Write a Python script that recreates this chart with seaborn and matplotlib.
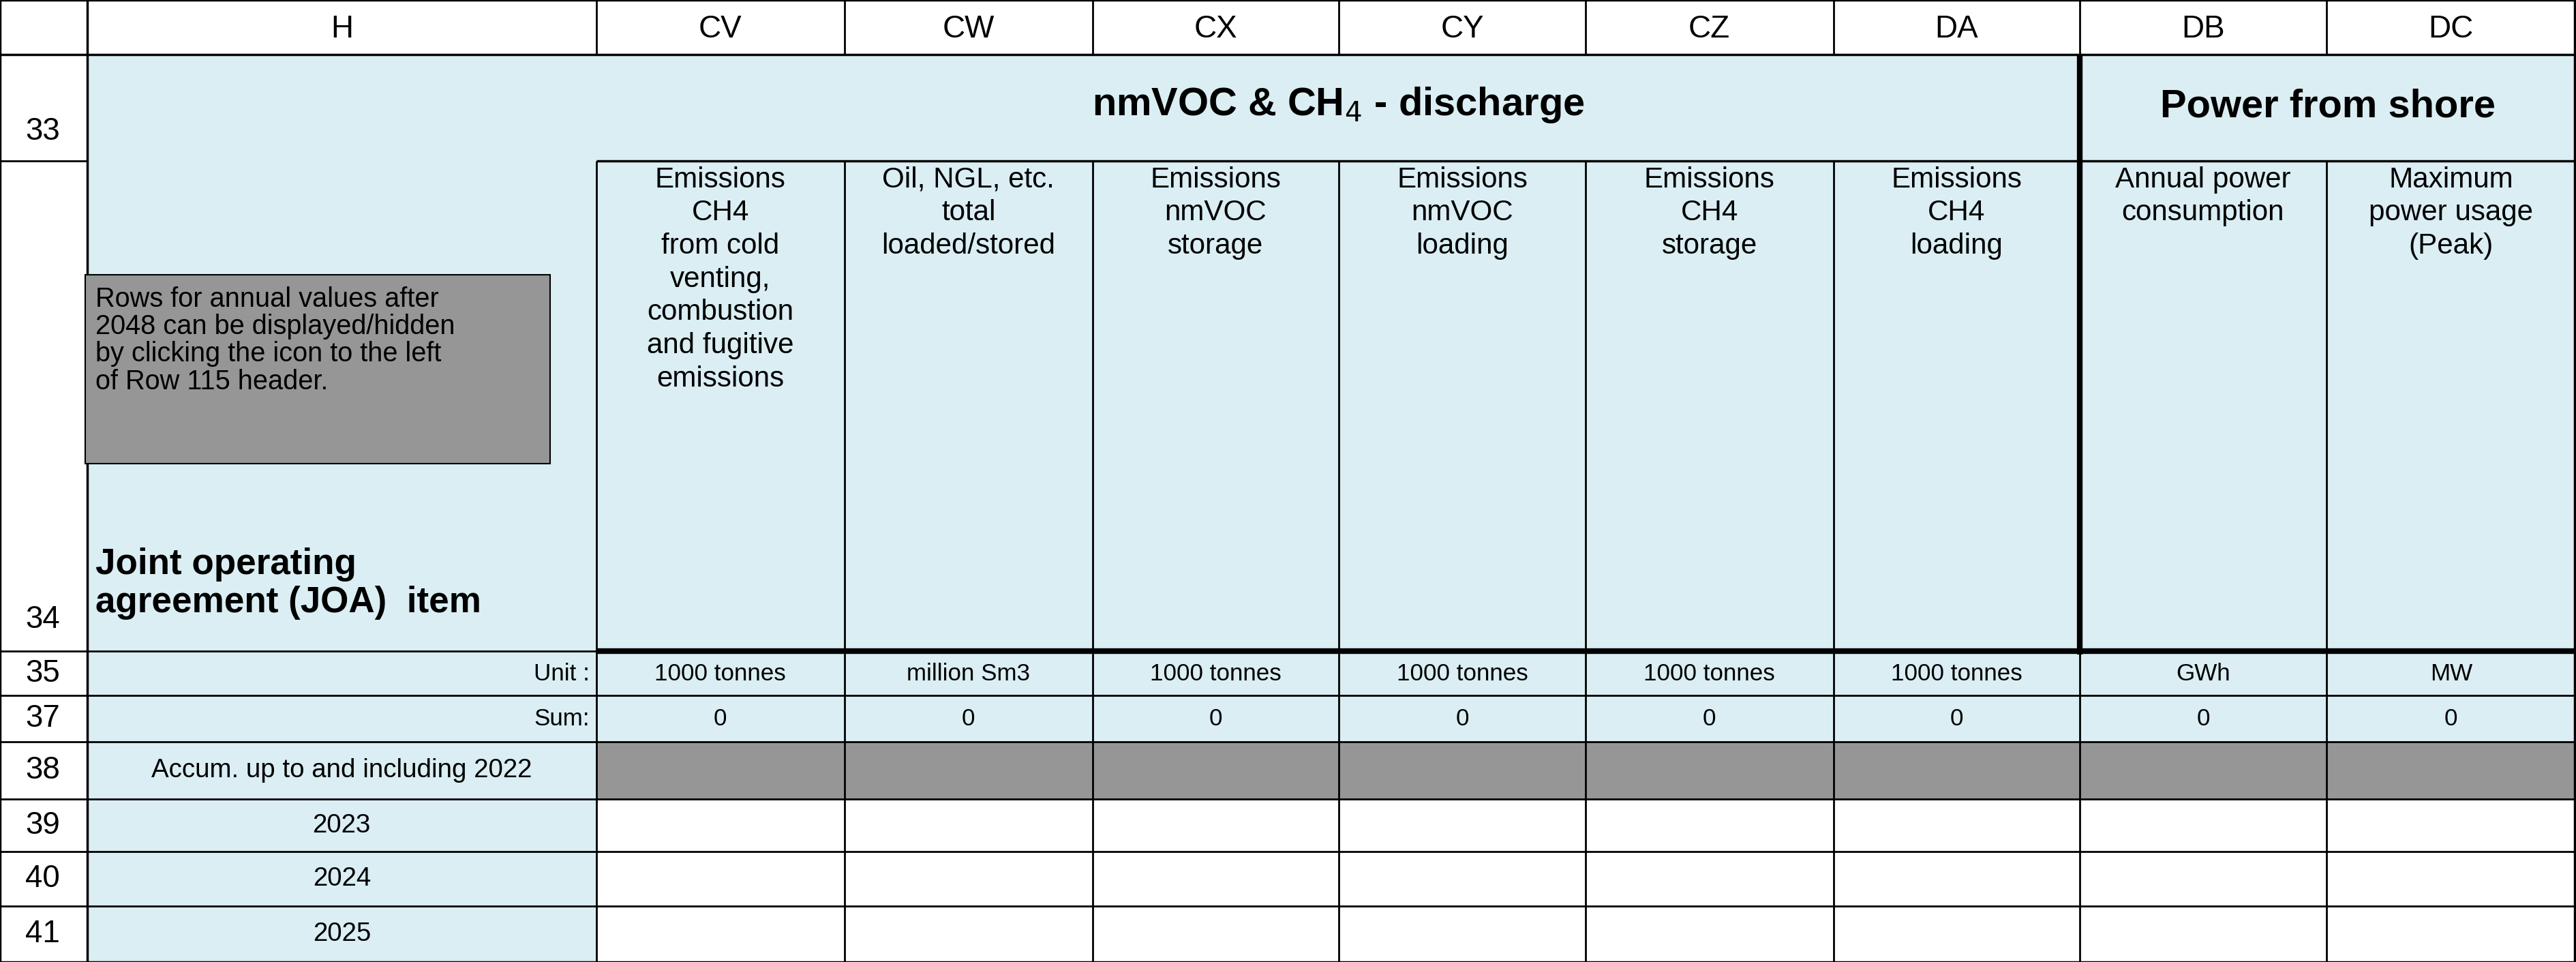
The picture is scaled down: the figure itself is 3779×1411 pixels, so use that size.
import matplotlib
matplotlib.use("Agg")
import matplotlib.pyplot as plt
import seaborn as sns
from matplotlib.patches import Rectangle

sns.set_theme(style="white", font="Liberation Sans", rc={"text.color": "black"})

col_letters = ["H", "CV", "CW", "CX", "CY", "CZ", "DA", "DB", "DC"]
row_numbers = ["33", "34", "35", "37", "38", "39", "40", "41"]
headers = ["Emissions\nCH4\nfrom cold\nventing,\ncombustion\nand fugitive\nemissions",
           "Oil, NGL, etc.\ntotal\nloaded/stored",
           "Emissions\nnmVOC\nstorage", "Emissions\nnmVOC\nloading",
           "Emissions\nCH4\nstorage", "Emissions\nCH4\nloading",
           "Annual power\nconsumption", "Maximum\npower usage\n(Peak)"]
units = ["1000 tonnes", "million Sm3", "1000 tonnes", "1000 tonnes",
         "1000 tonnes", "1000 tonnes", "GWh", "MW"]
sums = [0, 0, 0, 0, 0, 0, 0, 0]
year_rows = ["Accum. up to and including 2022", "2023", "2024", "2025"]

W, H = 1568, 585
xs = [0, 53, 363, 514, 665, 815, 965, 1116, 1266, 1416, 1568]
ys = [0, 33, 98, 396, 423, 451, 486, 518, 551, 585]
blue = "#DAEEF3"; gray = "#969696"
k = 3779 / W / 100 * 72  # px(display) -> pt

fig = plt.figure(figsize=(37.79, 14.11), dpi=100)
ax = fig.add_axes([0, 0, 1, 1])
ax.set_xlim(0, W); ax.set_ylim(H, 0); ax.axis("off")

def rect(x0, y0, x1, y1, fc, lw=0, ec="black", z=1):
    ax.add_patch(Rectangle((x0, y0), x1 - x0, y1 - y0, fc=fc, ec=ec, lw=lw, zorder=z))

rect(0, 0, W, H, "white")
rect(53, 33, W, 451, blue)
rect(53, 451, 363, H, blue)
rect(363, 451, W, 486, gray)

def line(x0, y0, x1, y1, lw=2.5):
    ax.plot([x0, x1], [y0, y1], color="black", lw=lw, zorder=5, solid_capstyle="butt")

fs = 17.5 * k
for i, c in enumerate(col_letters):
    ax.text((xs[i+1] + xs[i+2]) / 2, 18, c, ha="center", va="center", fontsize=19 * k)
line(0, 33, W, 33)
line(0, 0, W, 0); line(0, H, W, H)
for x in xs:
    line(x, 0, x, 33, 2)
line(0, 0, 0, H); line(53, 0, 53, H); line(W - 1, 0, W - 1, H)
rowy = [80, 377] + [(ys[i] + ys[i+1]) / 2 for i in range(3, 9)]
for r, y in zip(row_numbers, rowy):
    ax.text(26, y, r, ha="center", va="center", fontsize=19 * k)
line(0, 98, 53, 98, 2)
for y in ys[3:]:
    line(0, y, W, y, 2)
for x in xs[2:]:
    line(x, 98, x, H, 2)
line(363, 98, W, 98, 2.5)
line(1266, 33, 1266, 398, 6)
line(363, 396, W, 396, 6)
line(53, 33, 53, H, 2)

ax.text((363 + 1266) / 2, 64, "nmVOC & CH$_4$ - discharge", ha="center", va="center",
        fontsize=24 * k, fontweight="bold")
ax.text((1266 + W) / 2, 65, "Power from shore", ha="center", va="center",
        fontsize=24 * k, fontweight="bold")
for i, h in enumerate(headers):
    ax.text((xs[i+2] + xs[i+3]) / 2, 101, h, ha="center", va="top", fontsize=fs, linespacing=1.28)
for i, (u, s) in enumerate(zip(units, sums)):
    cx = (xs[i+2] + xs[i+3]) / 2
    ax.text(cx, 410, u, ha="center", va="center", fontsize=14.5 * k)
    ax.text(cx, 437, str(s), ha="center", va="center", fontsize=14.5 * k)
ax.text(359, 410, "Unit :", ha="right", va="center", fontsize=14.5 * k)
ax.text(359, 437, "Sum:", ha="right", va="center", fontsize=14.5 * k)
for i, t in enumerate(year_rows):
    ax.text(208, (ys[i+5] + ys[i+6]) / 2, t, ha="center", va="center", fontsize=16 * k)
ax.text(58, 355, "Joint operating\nagreement (JOA)  item", ha="left", va="center",
        fontsize=22 * k, fontweight="bold", linespacing=1.15)
rect(52, 167, 335, 282, gray, lw=1.5, z=6)
ax.text(58, 174, "Rows for annual values after\n2048 can be displayed/hidden\nby clicking the icon to the left\nof Row 115 header.",
        ha="left", va="top", fontsize=16.5 * k, zorder=7, linespacing=1.08)

fig.savefig("out.png", dpi=100)
